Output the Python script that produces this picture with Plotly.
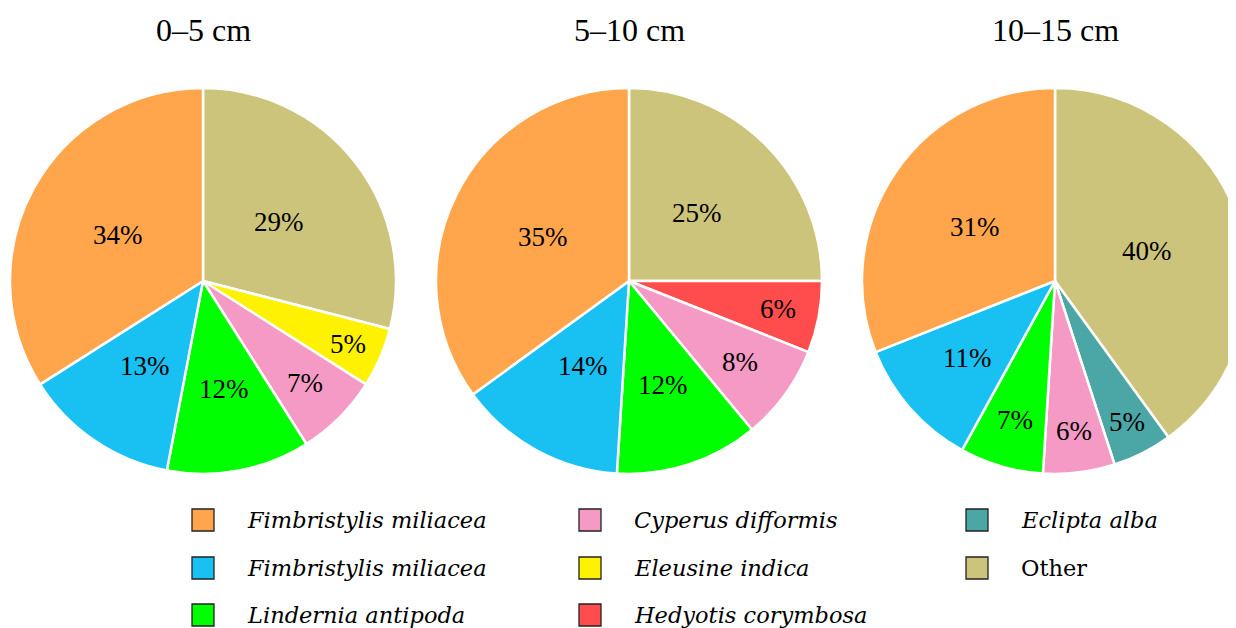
import math
import plotly.graph_objects as go

# ---------------- data ----------------
species = [
    "Fimbristylis miliacea",
    "Fimbristylis miliacea",
    "Lindernia antipoda",
    "Cyperus difformis",
    "Eleusine indica",
    "Hedyotis corymbosa",
    "Eclipta alba",
    "Other",
]
italic = [True, True, True, True, True, True, True, False]
depth_titles = ["0–5 cm", "5–10 cm", "10–15 cm"]
share_0_5 = [34, 13, 12, 7, 5, 0, 0, 29]
share_5_10 = [35, 14, 12, 8, 0, 6, 0, 25]
share_10_15 = [31, 11, 7, 6, 0, 0, 5, 40]
shares = [share_0_5, share_5_10, share_10_15]

# ---------------- styles ----------------
colors = ["#FFA64D", "#18C1F2", "#00FF00", "#F59AC4", "#FFF200",
          "#FF4D4D", "#4BA6A6", "#CCC47B"]

OFF = 8            # page body margin
W, H = 1250, 628   # figure size (right/bottom overflow is clipped by the window)


def fx(px):
    return (px - OFF) / W


def fy(py):
    return 1 - (py - OFF) / H


def label_radius(pct, r):
    # small slices carry their label further out
    return max(0.5 * r, 0.82 * r - 0.036 * r * (pct - 5))


pie_cx = [203, 629, 1055]
pie_cy = 281
pie_top, pie_bot = 88, 474
R = (pie_bot - pie_top) / 2

fig = go.Figure()
for k, vals in enumerate(shares):
    keys, v, c = [], [], []
    for i in reversed(range(len(vals))):
        if vals[i] > 0:
            keys.append(f"s{i}")
            v.append(vals[i])
            c.append(colors[i])
    fig.add_trace(go.Pie(
        labels=keys, values=v, sort=False, direction="clockwise",
        rotation=0,
        marker=dict(colors=c, line=dict(color="white", width=2.5)),
        textinfo="none",
        domain=dict(x=[fx(pie_cx[k] - R), fx(pie_cx[k] + R)],
                    y=[fy(pie_bot), fy(pie_top)]),
        showlegend=False, hoverinfo="value",
    ))
    # percentage labels at each slice's mid angle
    total = sum(v)
    cum = 0
    for val in v:
        mid = (cum + val / 2) / total * 2 * math.pi
        cum += val
        d = label_radius(100 * val / total, R)
        lx = pie_cx[k] + d * math.sin(mid)
        ly = pie_cy - d * math.cos(mid)
        fig.add_annotation(
            x=fx(lx), y=fy(ly), xref="paper", yref="paper",
            text=f"{val}%", showarrow=False, xanchor="center", yanchor="middle",
            font=dict(family="Liberation Serif", size=27, color="black"),
        )
    fig.add_annotation(
        x=fx(pie_cx[k]), y=fy(30), xref="paper", yref="paper",
        text=depth_titles[k], showarrow=False, xanchor="center", yanchor="middle",
        font=dict(family="Liberation Serif", size=32, color="black"),
    )

# manual legend, 3 columns, column-major
col_x = [203, 590, 977]
row_y = [520, 568, 615]
sq = 22
for i, name in enumerate(species):
    col, row = divmod(i, 3)
    cx, cy = col_x[col], row_y[row]
    fig.add_shape(
        type="rect", xref="paper", yref="paper",
        x0=fx(cx - sq / 2), x1=fx(cx + sq / 2),
        y0=fy(cy + sq / 2), y1=fy(cy - sq / 2),
        fillcolor=colors[i], line=dict(color="#222222", width=1.3),
    )
    txt = f"<i>{name}</i>" if italic[i] else name
    fig.add_annotation(
        x=fx(cx + 42), y=fy(cy), xref="paper", yref="paper",
        text=txt, showarrow=False, xanchor="left", yanchor="middle",
        font=dict(family="DejaVu Serif", size=22.5, color="black"),
    )

fig.update_layout(
    width=W, height=H, margin=dict(l=0, r=0, t=0, b=0),
    paper_bgcolor="white", plot_bgcolor="white",
)
fig.write_html("out.html")
